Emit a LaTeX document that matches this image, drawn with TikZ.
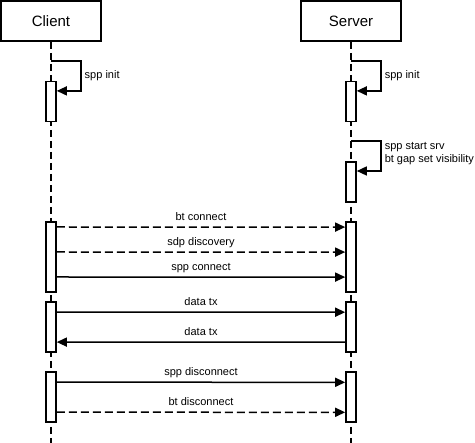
\documentclass[tikz,border=0pt]{standalone}
\usepackage{fontspec}
\setmainfont{Liberation Sans}
\usetikzlibrary{arrows.meta, positioning}
\tikzset{
    head/.style={rectangle, draw=black, line width=1.8pt, fill=white, minimum width=100pt, minimum height=40pt, font=\fontsize{15pt}{18pt}\selectfont},
    act/.style={rectangle, draw=black, line width=1.6pt, fill=white, minimum width=10pt, inner sep=0pt},
    life/.style={line width=1.5pt, dash pattern=on 7pt off 4pt},
    msg/.style={-{Triangle[length=10pt, width=9pt]}, line width=1.5pt},
    async/.style={msg, dash pattern=on 8pt off 4pt},
    msglbl/.style={font=\fontsize{11pt}{13pt}\selectfont, text height=8pt, text depth=2.5pt, inner sep=3pt, above, midway},
    looplbl/.style={font=\fontsize{11pt}{13pt}\selectfont, inner sep=3pt, align=left, right, pos=0.25}
}

\begin{document}
\begin{tikzpicture}[x=1pt, y=-1pt]
    \useasboundingbox (0,0) rectangle (475,443);

    \node[head] (Client) at (51,21) {Client};
    \node[head] (Server) at (351,21) {Server};
    \coordinate (ClientEnd) at (51,443);
    \coordinate (ServerEnd) at (351,443);

    % lifelines
    \draw[life] (Client) -- (ClientEnd);
    \draw[life] (Server) -- (ServerEnd);

    % activations
    \node[act, minimum height=40pt, below=39pt of Client] (CAct1) {};
    \node[act, minimum height=40pt, below=39pt of Server] (SAct1) {};
    \node[act, minimum height=40pt, below=38.5pt of SAct1] (SAct2) {};
    \node[act, minimum height=70pt, below=98.5pt of CAct1] (CAct2) {};
    \node[act, minimum height=70pt, below=18.5pt of SAct2] (SAct3) {};
    \node[act, minimum height=50pt, below=8.5pt of CAct2] (CAct3) {};
    \node[act, minimum height=50pt, below=8.5pt of SAct3] (SAct4) {};
    \node[act, minimum height=50pt, below=18.5pt of CAct3] (CAct4) {};
    \node[act, minimum height=50pt, below=18.5pt of SAct4] (SAct5) {};

    % self calls
    \coordinate (CInit) at (51,61);
    \coordinate (SInit) at (351,61);
    \coordinate (SStart) at (351,141);
    \draw[msg] (CInit) -- ++(30,0) |- ([yshift=-10pt]CAct1.north east) node[looplbl] {spp init};
    \draw[msg] (SInit) -- ++(30,0) |- ([yshift=-10pt]SAct1.north east) node[looplbl] {spp init};
    \draw[msg] (SStart) -- ++(30,0) |- ([yshift=-10pt]SAct2.north east) node[looplbl, yshift=2pt] {spp start srv\\bt gap set visibility};

    % connect
    \draw[async] ([yshift=-6pt]CAct2.north east) -- ([yshift=-6pt]SAct3.north west) node[msglbl] {bt connect};
    \draw[async] ([yshift=-31pt]CAct2.north east) -- ([yshift=-31pt]SAct3.north west) node[msglbl] {sdp discovery};
    \draw[msg] ([yshift=-56pt]CAct2.north east) -- ([yshift=-56pt]SAct3.north west) node[msglbl] {spp connect};

    % data
    \draw[msg] ([yshift=-11pt]CAct3.north east) -- ([yshift=-11pt]SAct4.north west) node[msglbl] {data tx};
    \draw[msg] ([yshift=-41pt]SAct4.north west) -- ([yshift=-41pt]CAct3.north east) node[msglbl] {data tx};

    % disconnect
    \draw[msg] ([yshift=-11pt]CAct4.north east) -- ([yshift=-11pt]SAct5.north west) node[msglbl] {spp disconnect};
    \draw[async] ([yshift=-41pt]CAct4.north east) -- ([yshift=-41pt]SAct5.north west) node[msglbl] {bt disconnect};
\end{tikzpicture}
\end{document}
